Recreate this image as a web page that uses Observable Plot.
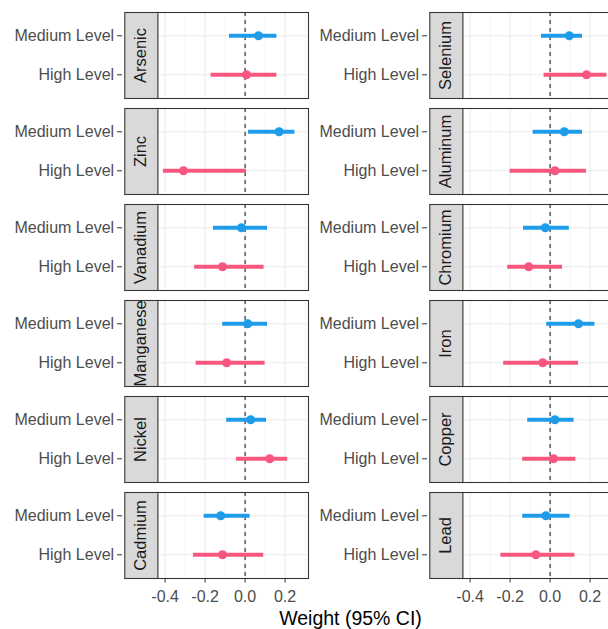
<!DOCTYPE html>
<html>
<head>
<meta charset="utf-8">
<script src="https://cdn.jsdelivr.net/npm/d3@7"></script>
<script src="https://cdn.jsdelivr.net/npm/@observablehq/plot@0.6"></script>
<style>
html, body { margin: 0; padding: 0; background: #fff; overflow: hidden; width: 608px; height: 629px; }
#wrap { position: relative; width: 608px; height: 629px; overflow: hidden; }
#wrap svg { display: block; }
#xtitle { position: absolute; left: 350.5px; top: 607px; transform: translateX(-50%);
  font-family: "Liberation Sans", Arial, sans-serif; font-size: 19.5px; line-height: 22px; color: #000; white-space: nowrap; }
</style>
</head>
<body>
<div id="wrap"></div>
<script>
// ---- data (facet order: row by row, left then right) ----
const metals  = ["Arsenic", "Selenium", "Zinc", "Aluminum", "Vanadium", "Chromium",
                 "Manganese", "Iron", "Nickel", "Copper", "Cadmium", "Lead"];
const levels  = ["Medium Level", "High Level"];
const medEst  = [0.067, 0.096, 0.170, 0.071, -0.018, -0.024, 0.013, 0.142, 0.028, 0.024, -0.122, -0.021];
const medLo   = [-0.078, -0.043, 0.017, -0.085, -0.158, -0.133, -0.112, -0.017, -0.092, -0.112, -0.205, -0.137];
const medHi   = [0.159, 0.162, 0.249, 0.162, 0.112, 0.096, 0.112, 0.224, 0.107, 0.120, 0.025, 0.100];
const highEst = [0.007, 0.182, -0.308, 0.024, -0.113, -0.107, -0.092, -0.037, 0.123, 0.017, -0.113, -0.071];
const highLo  = [-0.170, -0.030, -0.408, -0.200, -0.252, -0.212, -0.245, -0.232, -0.043, -0.137, -0.258, -0.246];
const highHi  = [0.159, 0.284, 0.007, 0.182, 0.095, 0.062, 0.100, 0.142, 0.213, 0.129, 0.093, 0.124];
const xTicks  = [-0.4, -0.2, 0.0, 0.2];
const xMinor  = [-0.3, -0.1, 0.1, 0.3];
const levelColors = ["#1E9CE9", "#F7577F"];
const xTitle = "Weight (95% CI)";

// ---- build tables ----
const rows = [];
metals.forEach((m, i) => {
  const col = i % 2, row = Math.floor(i / 2);
  rows.push({metal: m, col, row, level: levels[0], est: medEst[i], lo: medLo[i], hi: medHi[i]});
  rows.push({metal: m, col, row, level: levels[1], est: highEst[i], lo: highLo[i], hi: highHi[i]});
});
const strips = metals.map((m, i) => ({metal: m, col: i % 2, row: Math.floor(i / 2)}));

// ---- layout ----
const W = 613, H = 606;
const mL = 156.7, mT = 11.7;
const panelW = 150.6, gapX = 154.4;
const panelH = 86.3, gapY = 9.76;
const stripW = 32.7;
const font = "'Liberation Sans', Arial, sans-serif";

const chart = Plot.plot({
  width: W,
  height: H,
  marginLeft: mL,
  marginRight: W - mL - 2 * panelW - gapX,
  marginTop: mT,
  marginBottom: H - mT - 6 * panelH - 5 * gapY,
  style: {maxWidth: "none", fontFamily: font, fontSize: "16px", background: "#fff", overflow: "visible"},
  fx: {domain: [0, 1], paddingInner: gapX / (panelW + gapX), paddingOuter: 0, axis: null},
  fy: {domain: [0, 1, 2, 3, 4, 5], paddingInner: gapY / (panelH + gapY), paddingOuter: 0, axis: null},
  x: {domain: [-0.438, 0.317]},
  y: {type: "point", domain: levels, padding: 0.6},
  color: {domain: levels, range: levelColors},
  marks: [
    Plot.gridX({ticks: xMinor, stroke: "#EBEBEB", strokeOpacity: 1, strokeWidth: 0.55}),
    Plot.gridX({ticks: xTicks, stroke: "#EBEBEB", strokeOpacity: 1, strokeWidth: 1.07}),
    Plot.gridY({stroke: "#EBEBEB", strokeOpacity: 1, strokeWidth: 1.07}),
    Plot.ruleX([0], {stroke: "#222", strokeWidth: 1.1, strokeDasharray: "4,4"}),
    Plot.ruleY(rows, {fx: "col", fy: "row", y: "level", x1: "lo", x2: "hi", stroke: "level", strokeWidth: 4}),
    Plot.dot(rows, {fx: "col", fy: "row", x: "est", y: "level", fill: "level", r: 4.5}),
    Plot.frame({stroke: "#333", strokeWidth: 1.07}),
    Plot.frame({fill: "#D9D9D9", stroke: "#333", strokeWidth: 1.07, insetLeft: -stripW, insetRight: panelW}),
    Plot.text(strips, {fx: "col", fy: "row", text: "metal", frameAnchor: "left", dx: -stripW / 2,
      textAnchor: "middle", lineAnchor: "middle", rotate: -90, fontSize: 16.5, fill: "#1A1A1A"}),
    Plot.axisY({facetAnchor: null, dx: -35, tickSize: 5, tickPadding: 3.4, label: null,
      stroke: "#333", fill: "#4D4D4D", fontSize: 16}),
    Plot.axisX({ticks: xTicks, tickFormat: d => d.toFixed(1), tickSize: 4.5, tickPadding: 8, label: null,
      stroke: "#333", fill: "#4D4D4D", fontSize: 16})
  ]
});

const wrap = document.getElementById("wrap");
wrap.appendChild(chart);
const t = document.createElement("div");
t.id = "xtitle";
t.textContent = xTitle;
wrap.appendChild(t);
</script>
</body>
</html>
